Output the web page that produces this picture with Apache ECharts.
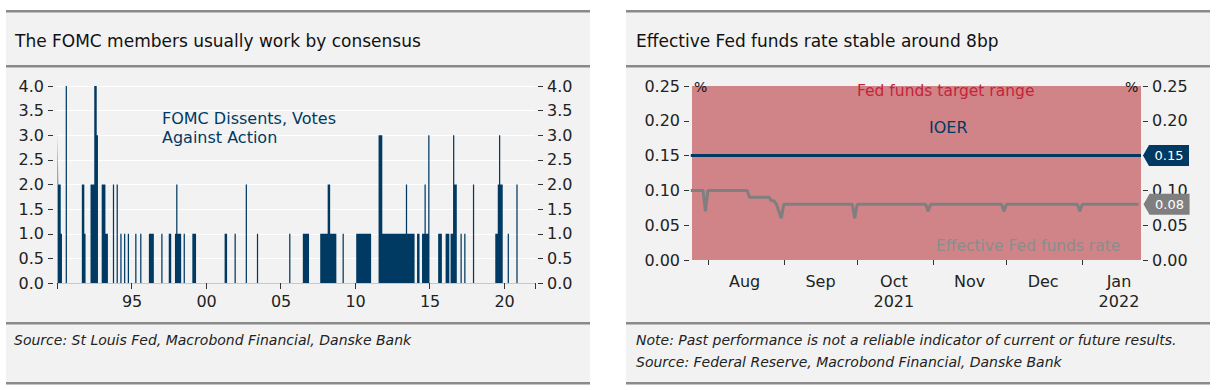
<!DOCTYPE html>
<html>
<head>
<meta charset="utf-8">
<script src="https://cdn.jsdelivr.net/npm/echarts@6/dist/echarts.min.js"></script>
<style>
html,body{margin:0;padding:0;background:#ffffff;}
#c{width:1216px;height:390px;}
</style>
</head>
<body>
<div id="c"></div>
<script>
// ---------------- Left chart: FOMC dissents (votes against action), monthly ----------------
const leftAxisStart = '1990-01';
const leftAxisEnd = '2022-01';
// runs of months with the same number of dissenting votes
const dissentRunStart = ['1990-01','1990-02','1990-04','1990-08','1991-09','1991-11','1992-04','1992-07','1992-09','1993-01','1993-04','1993-10','1994-01','1994-04','1994-07','1994-10','1995-04','1995-08','1996-03','1997-01','1997-07','1997-12','1998-01','1998-02','1998-07','1999-02','2001-04','2001-12','2002-09','2003-06','2005-08','2006-07','2007-09','2008-03','2008-05','2009-03','2010-02','2011-08','2011-11','2013-06','2013-07','2014-03','2014-07','2014-09','2014-10','2014-12','2015-08','2016-02','2016-06','2016-08','2016-09','2017-02','2017-05','2017-12','2019-06','2019-08','2019-09','2019-10','2020-04','2020-11'];
const dissentRunEnd   = ['1990-01','1990-03','1990-04','1990-08','1991-10','1991-11','1992-06','1992-08','1992-09','1993-03','1993-05','1993-10','1994-01','1994-04','1994-07','1994-10','1995-04','1995-08','1996-06','1997-01','1997-08','1997-12','1998-01','1998-04','1998-07','1999-04','2001-05','2001-12','2002-09','2003-06','2005-08','2006-11','2008-02','2008-04','2008-09','2009-03','2011-01','2011-10','2013-05','2013-06','2013-12','2014-04','2014-08','2014-09','2014-11','2014-12','2015-10','2016-04','2016-07','2016-08','2016-10','2017-02','2017-05','2017-12','2019-07','2019-08','2019-09','2019-11','2020-04','2020-11'];
const dissentVotes    = [3,2,1,4,2,1,2,4,3,2,1,2,2,1,1,1,1,1,1,1,1,1,2,1,1,1,1,1,2,1,1,1,1,2,1,1,1,3,1,2,1,1,1,2,1,3,1,1,1,3,2,1,1,2,1,2,3,2,1,2];
const leftYTicks = [0, 0.5, 1, 1.5, 2, 2.5, 3, 3.5, 4];
const yearLabelEvery = 5; // years

// ---------------- Right chart: Fed funds rates ----------------
const rightAxisMin = '2021-07-25T12:00:00';
const rightAxisMax = '2022-01-25T00:00:00';
const targetDates = ['2021-07-25', '2022-01-25'];
const targetUpper = [0.25, 0.25];
const ioerDates = ['2021-07-25', '2022-01-25'];
const ioerValues = [0.15, 0.15];
const effrDates = ['2021-07-25','2021-07-30','2021-07-31','2021-08-01','2021-08-17','2021-08-18','2021-08-26','2021-08-27','2021-08-28','2021-08-29','2021-08-31','2021-09-01','2021-09-29','2021-09-30','2021-10-01','2021-10-29','2021-10-30','2021-10-31','2021-11-29','2021-11-30','2021-12-01','2021-12-30','2021-12-31','2022-01-01','2022-01-24'];
const effrValues = [0.10,0.10,0.07,0.10,0.10,0.09,0.09,0.085,0.085,0.08,0.06,0.08,0.08,0.06,0.08,0.08,0.07,0.08,0.08,0.07,0.08,0.08,0.07,0.08,0.08];
const monthTickDates = ['2021-08-01','2021-09-01','2021-10-01','2021-11-01','2021-12-01','2022-01-01'];
const monthLabelDates = ['2021-08-16','2021-09-16','2021-10-16','2021-11-16','2021-12-16','2022-01-16'];
const monthNames = ['Jan','Feb','Mar','Apr','May','Jun','Jul','Aug','Sep','Oct','Nov','Dec'];

// ---------------- build ----------------
const FONT = 'DejaVu Sans';
const NAVY = '#003a63';
const GRAY_LINE = '#7f7f7f';
const PANEL = '#f2f2f2';
const RULE = '#8a8a8a';

function mIndex(s){ const p = s.split('-'); return (+p[0]) * 12 + (+p[1]) - 1; }
const m0 = mIndex(leftAxisStart), m1 = mIndex(leftAxisEnd);
const months = [];
for (let m = m0; m <= m1; m++) {
  const y = Math.floor(m / 12), mo = m % 12 + 1;
  months.push(y + '-' + (mo < 10 ? '0' + mo : mo));
}
const monthly = months.map(() => 0);
dissentRunStart.forEach((s, i) => {
  for (let m = mIndex(s); m <= mIndex(dissentRunEnd[i]); m++) monthly[m - m0] = dissentVotes[i];
});

function t(s){ return new Date(s.length > 10 ? s : s + 'T00:00:00').getTime(); }
const targetData = targetDates.map((d, i) => [t(d), targetUpper[i]]);
const ioerData = ioerDates.map((d, i) => [t(d), ioerValues[i]]);
const effrData = effrDates.map((d, i) => [t(d), effrValues[i]]);
const lastIoer = ioerData[ioerData.length - 1];
const lastEffr = effrData[effrData.length - 1];

const tagPath = 'path://M0,10L6,0L46,0L46,20L6,20Z';

const chart = echarts.init(document.getElementById('c'), null, {renderer: 'svg', width: 1216, height: 390});

const yLeftCommon = {
  type: 'value', gridIndex: 0, min: leftYTicks[0], max: leftYTicks[leftYTicks.length - 1],
  interval: leftYTicks[1] - leftYTicks[0],
  axisLine: {show: false},
  axisTick: {show: true, length: 5, lineStyle: {color: '#333', width: 1}},
  axisLabel: {formatter: v => v.toFixed(1), fontSize: 16, color: '#222', margin: 9, fontFamily: FONT}
};
const yRightCommon = {
  type: 'value', gridIndex: 1, min: 0, max: 0.25, interval: 0.05,
  axisLine: {show: false},
  axisTick: {show: true, length: 5, lineStyle: {color: '#333', width: 1}},
  axisLabel: {formatter: v => v.toFixed(2), fontSize: 16, color: '#222', margin: 9, fontFamily: FONT},
  splitLine: {show: false}
};

const option = {
  animation: false,
  backgroundColor: '#ffffff',
  textStyle: {fontFamily: FONT},
  grid: [
    {left: 57, top: 86, width: 478, height: 197},
    {left: 692, top: 86, width: 449, height: 174}
  ],
  xAxis: [
    {
      type: 'category', gridIndex: 0, data: months, boundaryGap: true,
      axisLine: {show: true, lineStyle: {color: '#c8c8c8', width: 1}},
      axisTick: {show: true, interval: (i) => i % (12 * yearLabelEvery) === 0, length: 6, lineStyle: {color: '#333'}},
      axisLabel: {interval: (i) => i % (12 * yearLabelEvery) === 0 && i > 0, formatter: v => v.slice(2, 4),
        fontSize: 16, color: '#222', margin: 10},
      splitLine: {show: false}
    },
    {
      type: 'value', gridIndex: 1, min: t(rightAxisMin), max: t(rightAxisMax), scale: true,
      axisLine: {show: false},
      axisTick: {show: true, customValues: monthTickDates.map(t), length: 5, lineStyle: {color: '#333'}},
      axisLabel: {
        customValues: monthLabelDates.map(t), fontSize: 16, color: '#222', margin: 11, lineHeight: 20,
        formatter: (v) => {
          const d = new Date(v); const mo = d.getMonth();
          let s = monthNames[mo];
          if (mo === 9 || mo === 0) s += '\n' + d.getFullYear();
          return s;
        }
      },
      splitLine: {show: false}
    }
  ],
  yAxis: [
    Object.assign({}, yLeftCommon, {position: 'left', offset: 4, splitLine: {show: true, lineStyle: {color: '#ffffff', width: 1}}}),
    Object.assign({}, yLeftCommon, {position: 'right', offset: 3, splitLine: {show: false}}),
    Object.assign({}, yRightCommon, {position: 'left', offset: 3}),
    Object.assign({}, yRightCommon, {position: 'right', offset: 2})
  ],
  series: [
    {
      name: 'FOMC Dissents, Votes Against Action', type: 'line', step: 'middle', xAxisIndex: 0, yAxisIndex: 0,
      data: monthly, symbol: 'none', showSymbol: false,
      lineStyle: {width: 0, color: NAVY}, areaStyle: {color: NAVY, opacity: 1},
      itemStyle: {color: NAVY}, z: 3
    },
    {
      name: 'Fed funds target range', type: 'line', xAxisIndex: 1, yAxisIndex: 2,
      data: targetData, symbol: 'none', lineStyle: {width: 0}, areaStyle: {color: '#d18488', opacity: 1},
      itemStyle: {color: '#d18488'}, z: 1
    },
    {
      name: 'IOER', type: 'line', xAxisIndex: 1, yAxisIndex: 2, data: ioerData, symbol: 'none',
      lineStyle: {color: NAVY, width: 3}, itemStyle: {color: NAVY}, z: 3,
      markPoint: {
        symbol: tagPath, symbolSize: [46, 21], symbolKeepAspect: false, symbolOffset: [25, 0],
        itemStyle: {color: NAVY},
        label: {show: true, color: '#ffffff', fontSize: 13, offset: [3, 0], formatter: p => p.value.toFixed(2)},
        data: [{coord: lastIoer, value: lastIoer[1]}]
      }
    },
    {
      name: 'Effective Fed funds rate', type: 'line', xAxisIndex: 1, yAxisIndex: 2, data: effrData, symbol: 'none',
      lineStyle: {color: GRAY_LINE, width: 3}, itemStyle: {color: GRAY_LINE}, z: 3,
      markPoint: {
        symbol: tagPath, symbolSize: [46, 21], symbolKeepAspect: false, symbolOffset: [28, 0],
        itemStyle: {color: GRAY_LINE},
        label: {show: true, color: '#ffffff', fontSize: 13, offset: [3, 0], formatter: p => p.value.toFixed(2)},
        data: [{coord: lastEffr, value: lastEffr[1]}]
      }
    }
  ],
  graphic: [
    {type: 'rect', z: -100, silent: true, shape: {x: 6, y: 11, width: 584, height: 373}, style: {fill: PANEL}},
    {type: 'rect', z: -100, silent: true, shape: {x: 626, y: 11, width: 584, height: 373}, style: {fill: PANEL}},
    {type: 'rect', z: -90, silent: true, shape: {x: 6, y: 10, width: 584, height: 2.5}, style: {fill: RULE}},
    {type: 'rect', z: -90, silent: true, shape: {x: 6, y: 65, width: 584, height: 2.5}, style: {fill: RULE}},
    {type: 'rect', z: -90, silent: true, shape: {x: 6, y: 322, width: 584, height: 2.5}, style: {fill: RULE}},
    {type: 'rect', z: -90, silent: true, shape: {x: 6, y: 382, width: 584, height: 2.5}, style: {fill: RULE}},
    {type: 'rect', z: -90, silent: true, shape: {x: 626, y: 10, width: 584, height: 2.5}, style: {fill: RULE}},
    {type: 'rect', z: -90, silent: true, shape: {x: 626, y: 65, width: 584, height: 2.5}, style: {fill: RULE}},
    {type: 'rect', z: -90, silent: true, shape: {x: 626, y: 322, width: 584, height: 2.5}, style: {fill: RULE}},
    {type: 'rect', z: -90, silent: true, shape: {x: 626, y: 382, width: 584, height: 2.5}, style: {fill: RULE}},
    {type: 'text', z: 100, left: 15, top: 32, style: {text: 'The FOMC members usually work by consensus', fill: '#111', font: '17px "DejaVu Sans"'}},
    {type: 'text', z: 100, left: 636, top: 32, style: {text: 'Effective Fed funds rate stable around 8bp', fill: '#111', font: '17px "DejaVu Sans"'}},
    {type: 'text', z: 100, left: 14, top: 333, style: {text: 'Source: St Louis Fed, Macrobond Financial, Danske Bank', fill: '#222', font: 'italic 14px "DejaVu Sans"'}},
    {type: 'text', z: 100, left: 636, top: 333, style: {text: 'Note: Past performance is not a reliable indicator of current or future results.', fill: '#222', font: 'italic 14px "DejaVu Sans"'}},
    {type: 'text', z: 100, left: 636, top: 355, style: {text: 'Source: Federal Reserve, Macrobond Financial, Danske Bank', fill: '#222', font: 'italic 14px "DejaVu Sans"'}},
    {type: 'text', z: 100, left: 162, top: 109, style: {text: 'FOMC Dissents, Votes\nAgainst Action', fill: NAVY, font: '16px "DejaVu Sans"', lineHeight: 19}},
    {type: 'text', z: 100, left: 857, top: 83, style: {text: 'Fed funds target range', fill: '#c3243a', font: '15.5px "DejaVu Sans"'}},
    {type: 'text', z: 100, left: 929, top: 119, style: {text: 'IOER', fill: NAVY, font: '16px "DejaVu Sans"'}},
    {type: 'text', z: 100, left: 936, top: 238, style: {text: 'Effective Fed funds rate', fill: '#8c8c8c', font: '15.5px "DejaVu Sans"'}},
    {type: 'text', z: 100, left: 694, top: 80, style: {text: '%', fill: '#111', font: '14px "DejaVu Sans"'}},
    {type: 'text', z: 100, left: 1125, top: 80, style: {text: '%', fill: '#111', font: '14px "DejaVu Sans"'}}
  ]
};
chart.setOption(option);
</script>
</body>
</html>
